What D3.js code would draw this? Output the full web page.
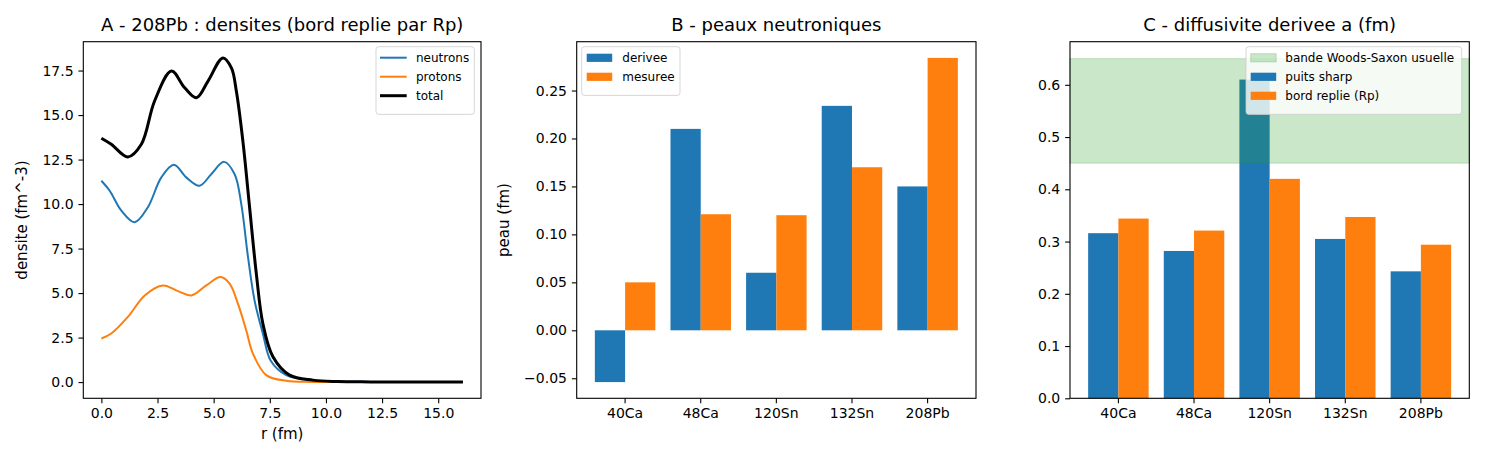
<!DOCTYPE html>
<html>
<head>
<meta charset="utf-8">
<script src="https://cdn.jsdelivr.net/npm/d3@7"></script>
<style>
    body { margin: 0; background: #fff; }
    text { font-family: "DejaVu Sans", sans-serif; fill: #000; }
</style>
</head>
<body>
<div id="chart"></div>
<script>
// --- panel A : densites 208Pb
const rNeutrons = [0, 0.37, 0.89, 1.48, 2.07, 2.67, 3.23, 3.78, 4.37, 4.90, 5.46, 5.93, 6.23, 6.53, 6.82, 7.19, 7.55, 8.23, 9.42, 10.5, 12.0, 14.0, 16.1];
const neutrons = [11.31, 10.75, 9.63, 8.98, 9.82, 11.50, 12.21, 11.50, 11.03, 11.69, 12.37, 11.69, 10.00, 7.02, 4.59, 2.73, 1.18, 0.39, 0.11, 0.03, 0.01, 0.0, 0.0];

const rProtons = [0, 0.44, 1.18, 1.93, 2.74, 3.41, 4.01, 4.67, 5.31, 5.71, 6.08, 6.45, 6.75, 7.34, 8.23, 9.42, 12.0, 16.1];
const protons = [2.45, 2.73, 3.66, 4.87, 5.43, 5.11, 4.87, 5.43, 5.90, 5.53, 4.41, 2.91, 1.60, 0.39, 0.07, 0.01, 0.0, 0.0];

const rTotal = [0, 0.44, 1.18, 1.78, 2.37, 3.12, 3.71, 4.23, 4.75, 5.41, 5.79, 6.01, 6.30, 6.60, 6.90, 7.19, 7.64, 8.38, 9.42, 10.5, 12.0, 14.0, 16.1];
const total = [13.70, 13.36, 12.65, 13.36, 15.79, 17.47, 16.53, 15.97, 16.91, 18.21, 17.65, 16.35, 13.55, 9.82, 6.09, 3.29, 1.42, 0.39, 0.11, 0.03, 0.01, 0.0, 0.0];

const xTicksA = [0, 2.5, 5, 7.5, 10, 12.5, 15];
const yTicksA = [0, 2.5, 5, 7.5, 10, 12.5, 15, 17.5];

// --- panels B et C
const noyaux = ["40Ca", "48Ca", "120Sn", "132Sn", "208Pb"];
const peauDerivee = [-0.054, 0.210, 0.060, 0.234, 0.150];
const peauMesuree = [0.050, 0.121, 0.120, 0.170, 0.284];
const yTicksB = [-0.05, 0, 0.05, 0.10, 0.15, 0.20, 0.25];

const diffSharp = [0.316, 0.282, 0.610, 0.305, 0.243];
const diffReplie = [0.344, 0.321, 0.420, 0.347, 0.294];
const bandeWS = [0.45, 0.65];
const yTicksC = [0, 0.1, 0.2, 0.3, 0.4, 0.5, 0.6];

const blue = "#1f77b4", orange = "#ff7f0e", green = "#2ca02c";

const W = 1485, H = 462;
const plotTop = 41.7, plotBottom = 398.3;
const tick = 4.86;

const svg = d3.select("#chart").append("svg")
    .attr("width", W)
    .attr("height", H);

function styleAxis(g) {
    g.attr("font-size", 14).attr("font-family", "DejaVu Sans");
    g.select(".domain").remove();
    g.selectAll(".tick line").attr("stroke", "#000").attr("stroke-width", 1.1);
    g.selectAll(".tick text").attr("fill", "#000");
}

function frame(x0, x1) {
    svg.append("rect")
        .attr("x", x0).attr("y", plotTop)
        .attr("width", x1 - x0).attr("height", plotBottom - plotTop)
        .attr("fill", "none")
        .attr("stroke", "#000")
        .attr("stroke-width", 1.1);
}

function title(cx, txt) {
    svg.append("text")
        .attr("x", cx).attr("y", 31)
        .attr("text-anchor", "middle")
        .attr("font-size", 18)
        .text(txt);
}

// items: {label, kind: "line"|"patch", color, width, opacity}
function legend(x0, x1, items, handleX, textX) {
    const rowH = 19;
    const y0 = 46.7;
    const h = 14 + rowH * items.length - 3.3;
    svg.append("rect")
        .attr("x", x0).attr("y", y0)
        .attr("width", x1 - x0).attr("height", h)
        .attr("rx", 2.8)
        .attr("fill", "#fff").attr("fill-opacity", 0.8)
        .attr("stroke", "#cccccc").attr("stroke-opacity", 0.8)
        .attr("stroke-width", 1);
    items.forEach((it, i) => {
        const cy = 57.7 + i * rowH;
        if (it.kind === "line") {
            svg.append("line")
                .attr("x1", handleX).attr("x2", handleX + 26.7)
                .attr("y1", cy).attr("y2", cy)
                .attr("stroke", it.color)
                .attr("stroke-width", it.width);
        } else {
            svg.append("rect")
                .attr("x", handleX).attr("y", cy - 4)
                .attr("width", 25.5).attr("height", 8.2)
                .attr("fill", it.color)
                .attr("fill-opacity", it.opacity || 1)
                .attr("stroke", it.opacity ? it.color : "none")
                .attr("stroke-opacity", it.opacity || 1);
        }
        svg.append("text")
            .attr("x", textX).attr("y", cy + 4.2)
            .attr("font-size", 12)
            .text(it.label);
    });
}

// ================= A =================
{
    const x0 = 83.3, x1 = 481;
    const rMax = d3.max(rTotal);
    const x = d3.scaleLinear()
        .domain([-0.05 * rMax, rMax * 1.05])
        .range([x0, x1]);
    const yMax = d3.max(total);
    const y = d3.scaleLinear()
        .domain([-0.05 * yMax, yMax * 1.05])
        .range([plotBottom, plotTop]);

    const line = d3.line()
        .x(d => x(d[0]))
        .y(d => y(d[1]))
        .curve(d3.curveCatmullRom.alpha(0.5));

    const series = [
        { r: rNeutrons, v: neutrons, color: blue, width: 2 },
        { r: rProtons, v: protons, color: orange, width: 2 },
        { r: rTotal, v: total, color: "#000", width: 3 }
    ];
    series.forEach(s => {
        svg.append("path")
            .datum(d3.zip(s.r, s.v))
            .attr("d", line)
            .attr("fill", "none")
            .attr("stroke", s.color)
            .attr("stroke-width", s.width)
            .attr("stroke-linejoin", "round");
    });

    svg.append("g")
        .attr("transform", `translate(0,${plotBottom})`)
        .call(d3.axisBottom(x).tickValues(xTicksA).tickFormat(d3.format(".1f"))
            .tickSize(tick).tickPadding(tick))
        .call(styleAxis);
    svg.append("g")
        .attr("transform", `translate(${x0},0)`)
        .call(d3.axisLeft(y).tickValues(yTicksA).tickFormat(d3.format(".1f"))
            .tickSize(tick).tickPadding(tick))
        .call(styleAxis);

    frame(x0, x1);
    title((x0 + x1) / 2, "A - 208Pb : densites (bord replie par Rp)");

    svg.append("text")
        .attr("x", (x0 + x1) / 2).attr("y", 439)
        .attr("text-anchor", "middle")
        .attr("font-size", 15)
        .text("r (fm)");
    svg.append("text")
        .attr("transform", `translate(26.5,${(plotTop + plotBottom) / 2}) rotate(-90)`)
        .attr("text-anchor", "middle")
        .attr("font-size", 15)
        .text("densite (fm^-3)");

    legend(376, 474.3, [
        { label: "neutrons", kind: "line", color: blue, width: 2 },
        { label: "protons", kind: "line", color: orange, width: 2 },
        { label: "total", kind: "line", color: "#000", width: 3 }
    ], 380, 416);
}

// ================= B =================
{
    const x0 = 576.7, x1 = 976;
    const x = d3.scaleBand()
        .domain(noyaux)
        .range([x0, x1])
        .paddingInner(0.2)
        .paddingOuter(0.24);
    const xs = d3.scaleBand()
        .domain(["derivee", "mesuree"])
        .range([0, x.bandwidth()]);

    const ext = d3.extent(peauDerivee.concat(peauMesuree));
    const span = ext[1] - ext[0];
    const y = d3.scaleLinear()
        .domain([ext[0] - 0.05 * span, ext[1] + 0.05 * span])
        .range([plotBottom, plotTop]);

    const groups = [
        { key: "derivee", values: peauDerivee, color: blue },
        { key: "mesuree", values: peauMesuree, color: orange }
    ];
    groups.forEach(gr => {
        svg.append("g").selectAll("rect")
            .data(noyaux)
            .enter().append("rect")
            .attr("x", d => x(d) + xs(gr.key))
            .attr("width", xs.bandwidth())
            .attr("y", (d, i) => y(Math.max(0, gr.values[i])))
            .attr("height", (d, i) => Math.abs(y(gr.values[i]) - y(0)))
            .attr("fill", gr.color);
    });

    svg.append("g")
        .attr("transform", `translate(0,${plotBottom})`)
        .call(d3.axisBottom(x).tickSize(tick).tickPadding(tick))
        .call(styleAxis);
    svg.append("g")
        .attr("transform", `translate(${x0},0)`)
        .call(d3.axisLeft(y).tickValues(yTicksB).tickFormat(d3.format(".2f"))
            .tickSize(tick).tickPadding(tick))
        .call(styleAxis);

    frame(x0, x1);
    title((x0 + x1) / 2, "B - peaux neutroniques");

    svg.append("text")
        .attr("transform", `translate(509,${(plotTop + plotBottom) / 2}) rotate(-90)`)
        .attr("text-anchor", "middle")
        .attr("font-size", 15)
        .text("peau (fm)");

    legend(581.7, 680, [
        { label: "derivee", kind: "patch", color: blue },
        { label: "mesuree", kind: "patch", color: orange }
    ], 586.7, 622.3);
}

// ================= C =================
{
    const x0 = 1070, x1 = 1469.3;
    const x = d3.scaleBand()
        .domain(noyaux)
        .range([x0, x1])
        .paddingInner(0.2)
        .paddingOuter(0.24);
    const xs = d3.scaleBand()
        .domain(["sharp", "replie"])
        .range([0, x.bandwidth()]);

    const yMax = d3.max(diffSharp.concat(diffReplie, bandeWS));
    const y = d3.scaleLinear()
        .domain([0, yMax * 1.05])
        .range([plotBottom, plotTop]);

    const groups = [
        { key: "sharp", values: diffSharp, color: blue },
        { key: "replie", values: diffReplie, color: orange }
    ];
    groups.forEach(gr => {
        svg.append("g").selectAll("rect")
            .data(noyaux)
            .enter().append("rect")
            .attr("x", d => x(d) + xs(gr.key))
            .attr("width", xs.bandwidth())
            .attr("y", (d, i) => y(gr.values[i]))
            .attr("height", (d, i) => y(0) - y(gr.values[i]))
            .attr("fill", gr.color);
    });

    // bande Woods-Saxon par-dessus les barres
    svg.append("rect")
        .attr("x", x0).attr("width", x1 - x0)
        .attr("y", y(bandeWS[1]))
        .attr("height", y(bandeWS[0]) - y(bandeWS[1]))
        .attr("fill", green).attr("fill-opacity", 0.25)
        .attr("stroke", green).attr("stroke-opacity", 0.25)
        .attr("stroke-width", 1);

    svg.append("g")
        .attr("transform", `translate(0,${plotBottom})`)
        .call(d3.axisBottom(x).tickSize(tick).tickPadding(tick))
        .call(styleAxis);
    svg.append("g")
        .attr("transform", `translate(${x0},0)`)
        .call(d3.axisLeft(y).tickValues(yTicksC).tickFormat(d3.format(".1f"))
            .tickSize(tick).tickPadding(tick))
        .call(styleAxis);

    frame(x0, x1);
    title((x0 + x1) / 2, "C - diffusivite derivee a (fm)");

    legend(1246, 1461.7, [
        { label: "bande Woods-Saxon usuelle", kind: "patch", color: green, opacity: 0.25 },
        { label: "puits sharp", kind: "patch", color: blue },
        { label: "bord replie (Rp)", kind: "patch", color: orange }
    ], 1250.7, 1285.3);
}
</script>
</body>
</html>
